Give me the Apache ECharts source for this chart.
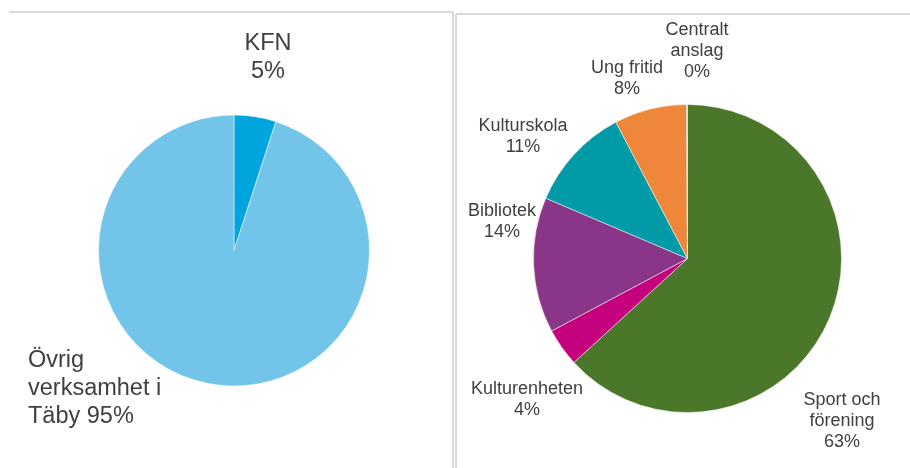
<!DOCTYPE html>
<html>
<head>
<meta charset="utf-8">
<script src="https://cdn.jsdelivr.net/npm/echarts@6/dist/echarts.min.js"></script>
<style>
  html, body { margin: 0; padding: 0; background: #fff; }
  #chart { width: 910px; height: 468px; }
</style>
</head>
<body>
<div id="chart"></div>
<script>
// left pie: KFN share of Täby
const leftNames = ['KFN', 'Övrig verksamhet i Täby'];
const leftValues = [5, 95];
const leftColors = ['#00a5dd', '#72c4e8'];

// right pie: KFN split
const rightNames = ['Sport och förening', 'Kulturenheten', 'Bibliotek', 'Kulturskola', 'Ung fritid', 'Centralt anslag'];
const rightValues = [63.2, 4.0, 14.2, 10.9, 7.6, 0.1];
const rightColors = ['#4a7729', '#c5007c', '#8a3688', '#009ba6', '#ef873a', '#a0a0a0'];

// how the labels wrap, {p} is the percent
const leftLabelText = ['KFN\n{p}', 'Övrig\nverksamhet i\nTäby {p}'];
const rightLabelText = ['Sport och\nförening\n{p}', 'Kulturenheten\n{p}', 'Bibliotek\n{p}', 'Kulturskola\n{p}', 'Ung fritid\n{p}', 'Centralt\nanslag\n{p}'];

// label spots (Excel places them by hand-ish)
const leftLabelPos = [[268, 58, 'center'], [28, 389, 'left']];
const rightLabelPos = [[842, 421, 'center'], [527, 400, 'center'], [502, 222, 'center'], [523, 137, 'center'], [627, 79, 'center'], [697, 51, 'center']];

const textColor = '#404040';

function makeData(names, values, colors) {
  return names.map((n, i) => ({ name: n, value: values[i], itemStyle: { color: colors[i] } }));
}

function fmt(texts) {
  return p => texts[p.dataIndex].replace('{p}', Math.round(p.percent) + '%');
}

function layout(pos) {
  return p => ({ x: pos[p.dataIndex][0], y: pos[p.dataIndex][1], align: pos[p.dataIndex][2], verticalAlign: 'middle' });
}

const chart = echarts.init(document.getElementById('chart'));
chart.setOption({
  animation: false,
  graphic: [
    { type: 'line', shape: { x1: 9, y1: 12, x2: 453, y2: 12 }, style: { stroke: '#d9d9d9', lineWidth: 2 } },
    { type: 'line', shape: { x1: 453, y1: 12, x2: 453, y2: 468 }, style: { stroke: '#d9d9d9', lineWidth: 2 } },
    { type: 'line', shape: { x1: 456, y1: 14, x2: 910, y2: 14 }, style: { stroke: '#d9d9d9', lineWidth: 2 } },
    { type: 'line', shape: { x1: 456, y1: 14, x2: 456, y2: 468 }, style: { stroke: '#d9d9d9', lineWidth: 2 } }
  ],
  series: [
    {
      type: 'pie',
      center: [234, 250.5],
      radius: [0, 135.5],
      startAngle: 90,
      avoidLabelOverlap: false,
      data: makeData(leftNames, leftValues, leftColors),
      itemStyle: { borderColor: '#fff', borderWidth: 0.5 },
      label: {
        formatter: fmt(leftLabelText),
        color: textColor,
        fontFamily: 'Liberation Sans, Arial, sans-serif',
        fontSize: 23.5,
        lineHeight: 28,
        align: 'left'
      },
      labelLine: { show: false },
      labelLayout: layout(leftLabelPos),
      emphasis: { disabled: true }
    },
    {
      type: 'pie',
      center: [687.5, 258.5],
      radius: [0, 154],
      startAngle: 90,
      avoidLabelOverlap: false,
      data: makeData(rightNames, rightValues, rightColors),
      itemStyle: { borderColor: '#fff', borderWidth: 0.5 },
      label: {
        formatter: fmt(rightLabelText),
        color: textColor,
        fontFamily: 'Liberation Sans, Arial, sans-serif',
        fontSize: 18,
        lineHeight: 21,
        align: 'center'
      },
      labelLine: { show: false },
      labelLayout: layout(rightLabelPos),
      emphasis: { disabled: true }
    }
  ]
});
</script>
</body>
</html>
